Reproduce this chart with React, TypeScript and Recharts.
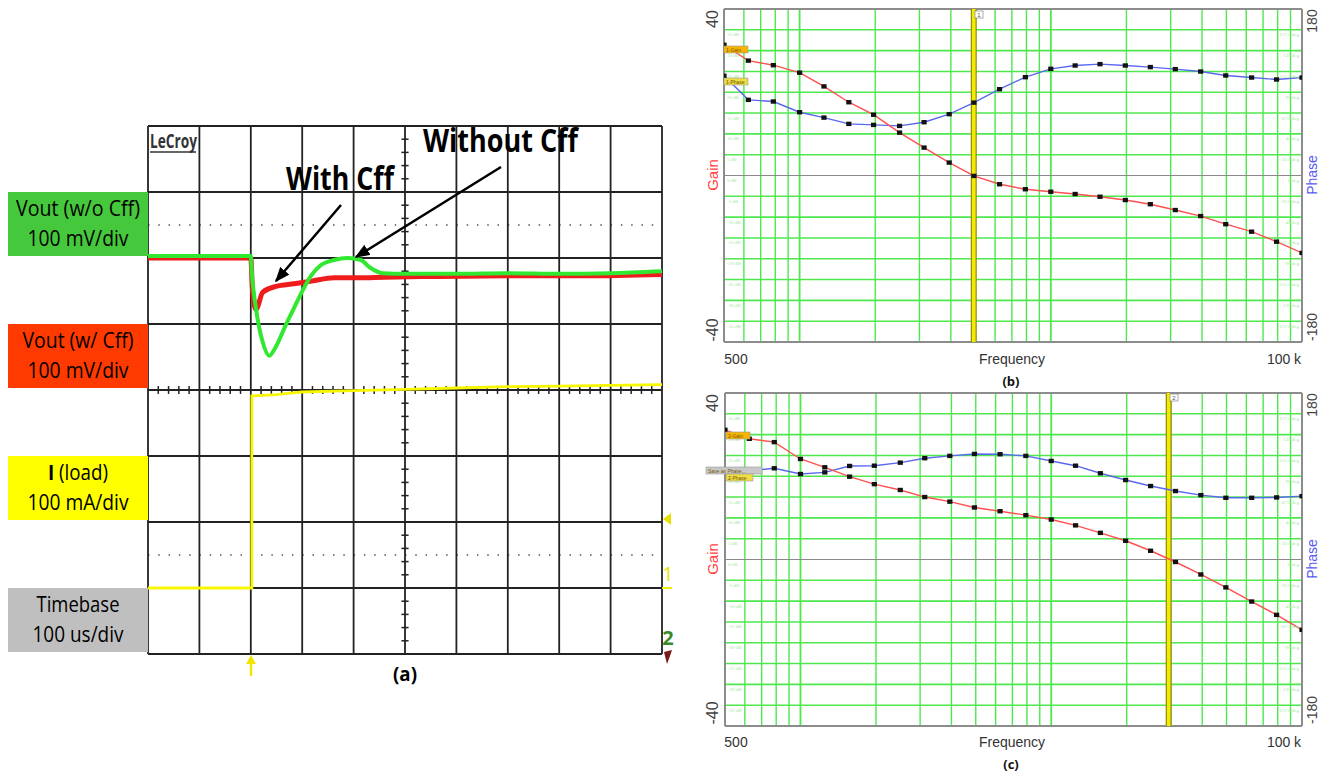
import React from 'react';
import { LineChart, Line, XAxis, YAxis, ReferenceLine } from 'recharts';

// ---- (a) scope capture: time and level in divisions (level 0 = bottom row, 8 = top) ----
const greenT = [0, 2.0, 2.015, 2.1, 2.23, 2.36, 2.49, 2.66, 2.84, 3.01, 3.18, 3.36, 3.62, 3.88, 4.14, 4.31, 4.57, 5.0, 6.0, 7.0, 8.0, 9.0, 10.0];
const greenV = [6.03, 6.03, 5.83, 5.24, 4.73, 4.52, 4.66, 4.95, 5.24, 5.51, 5.74, 5.89, 5.97, 6.0, 5.97, 5.86, 5.77, 5.76, 5.76, 5.77, 5.76, 5.77, 5.8];
const redT = [0, 2.0, 2.03, 2.1, 2.23, 2.49, 2.84, 3.18, 3.62, 4.1, 4.6, 5.5, 7.0, 8.5, 10.0];
const redV = [6.0, 6.0, 5.55, 5.22, 5.48, 5.57, 5.61, 5.65, 5.7, 5.7, 5.71, 5.72, 5.73, 5.73, 5.75];
const yellowT = [0, 2.02, 2.02, 2.5, 3.0, 4.0, 5.0, 6.0, 7.0, 8.0, 9.0, 10.0];
const yellowV = [1.0, 1.0, 3.91, 3.93, 3.97, 3.99, 4.01, 4.03, 4.05, 4.06, 4.07, 4.08];

const divX = [0, 1, 2, 3, 4, 5, 6, 7, 8, 9, 10];
const divY = [0, 1, 2, 3, 4, 5, 6, 7, 8];
const dottedRows = [1.5, 6.5];
const minorX = Array.from({ length: 49 }, (_, i) => +((i + 1) * 0.2).toFixed(1)).filter((v) => v % 1 !== 0);
const minorY = minorX.filter((v) => v < 8);

// ---- (b) / (c) bode plots ----
const freq = [500, 625, 786, 1000, 1250, 1570, 1970, 2500, 3130, 3940, 4940, 6250, 7920, 10000, 12500, 15700, 19800, 24900, 31300, 39500, 49700, 63000, 79200, 100000];
const gainB = [31.4, 27.6, 26.5, 24.7, 21.4, 17.6, 14.6, 10.3, 6.7, 3.1, -0.1, -2.1, -3.3, -3.9, -4.45, -5.1, -5.9, -6.9, -8.3, -9.75, -11.7, -13.5, -15.9, -18.6];
const phaseB = [107.8, 81.8, 80, 68.4, 62.6, 55.8, 54.7, 53.6, 57.6, 66.3, 78.8, 93.3, 106.3, 115.3, 118.9, 120.4, 118.9, 117.2, 115.0, 112.4, 108.1, 105.9, 103.8, 105.9];
const gainC = [31.15, 29.0, 28.2, 24.15, 22.15, 19.9, 18.1, 16.7, 15.0, 13.9, 12.5, 11.6, 10.65, 9.6, 8.2, 6.4, 4.5, 2.1, -0.6, -3.6, -6.7, -10.1, -13.3, -16.9];
const phaseC = [96.8, 96, 98.6, 92.4, 94.2, 101.1, 101.4, 104.7, 109.5, 112, 114.1, 113.8, 112, 106.5, 101.4, 93.2, 85.9, 79.4, 74.0, 69.6, 66.7, 66.7, 67.1, 68.5];
const crossB = 4935;
const crossC = 29400;

const gridFreq = [600, 700, 800, 900, 1000, 2000, 3000, 4000, 5000, 6000, 7000, 8000, 9000, 10000, 20000, 30000, 40000, 50000, 60000, 70000, 80000, 90000];
const gainLines = [35, 30, 25, 20, 15, 10, 5, -5, -10, -15, -20, -25, -30, -35];
const phaseLines = [157.5, 135, 112.5, 90, 67.5, 45, 22.5, -22.5, -45, -67.5, -90, -112.5, -135, -157.5];

const toXY = (t: number[], v: number[]) => t.map((x, i) => ({ x, y: v[i] }));

const GRID = '#222';
const BODE_GRID = '#4ee84e';
const TINY = '#9ee89e';

function SquareDot(props: any) {
  const { cx, cy, index } = props;
  if (cx == null || cy == null) return null;
  return <rect key={`sq${index}`} x={cx - 2.6} y={cy - 2.2} width={5.2} height={4.4} fill="#111" />;
}

function Scope() {
  return (
    <LineChart width={700} height={700} margin={{ top: 126, right: 38, bottom: 46, left: 148 }}>
      <XAxis type="number" dataKey="x" domain={[0, 10]} hide allowDataOverflow />
      <YAxis type="number" dataKey="y" domain={[0, 8]} hide allowDataOverflow />
      {dottedRows.map((r) => (
        <ReferenceLine key={`dr${r}`} y={r} stroke="#555" strokeWidth={1.4} strokeDasharray="1.5 8.78" />
      ))}
      {divX.map((d) => (
        <ReferenceLine key={`vx${d}`} x={d} stroke={GRID} strokeWidth={1.8} />
      ))}
      {divY.map((d) => (
        <ReferenceLine key={`hy${d}`} y={d} stroke={GRID} strokeWidth={1.8} />
      ))}
      {minorY.map((v) => (
        <ReferenceLine key={`ty${v}`} segment={[{ x: 4.93, y: v }, { x: 5.07, y: v }]} stroke={GRID} strokeWidth={1.5} />
      ))}
      {minorX.map((v) => (
        <ReferenceLine key={`tx${v}`} segment={[{ x: v, y: 3.94 }, { x: v, y: 4.06 }]} stroke={GRID} strokeWidth={1.5} />
      ))}
      <ReferenceLine segment={[{ x: 2.02, y: 1.0 }, { x: 2.02, y: 1.82 }]} stroke="#333" strokeWidth={1.5} />
      <Line data={toXY(yellowT, yellowV)} dataKey="y" type="linear" stroke="#f7f700" strokeWidth={2.8} dot={false} isAnimationActive={false} />
      <Line data={toXY(redT, redV)} dataKey="y" type="monotone" stroke="#ee1c1c" strokeWidth={5} dot={false} isAnimationActive={false} />
      <Line data={toXY(greenT, greenV)} dataKey="y" type="monotone" stroke="#2fe82f" strokeWidth={4} dot={false} isAnimationActive={false} />
    </LineChart>
  );
}

function Bode({ gain, phase, cross, height, top, left }: { gain: number[]; phase: number[]; cross: number; height: number; top: number; left: number }) {
  const data = freq.map((f, i) => ({ f, gain: gain[i], phase: phase[i] }));
  return (
    <LineChart width={620} height={height} data={data} margin={{ top, right: 18, bottom: height - top - 333, left }}>
      <XAxis type="number" dataKey="f" scale="log" domain={[500, 100000]} hide allowDataOverflow />
      <YAxis yAxisId="gain" type="number" domain={[-40, 40]} hide allowDataOverflow />
      <YAxis yAxisId="phase" orientation="right" type="number" domain={[-180, 180]} hide allowDataOverflow />
      {gridFreq.map((f) => (
        <ReferenceLine key={`gf${f}`} yAxisId="gain" x={f} stroke={BODE_GRID} strokeWidth={f === 1000 || f === 10000 ? 1.8 : 1.4} />
      ))}
      {gainLines.map((g) => (
        <ReferenceLine
          key={`gl${g}`}
          yAxisId="gain"
          y={g}
          stroke={BODE_GRID}
          strokeWidth={1.6}
          label={{ value: `${g} dB`, position: 'insideTopLeft', fontSize: 5, fill: TINY, offset: 3 }}
        />
      ))}
      {phaseLines.map((p) => (
        <ReferenceLine
          key={`pl${p}`}
          yAxisId="phase"
          y={p}
          stroke="none"
          label={{ value: `${p} deg`, position: 'insideTopRight', fontSize: 5, fill: TINY, offset: 3 }}
        />
      ))}
      <ReferenceLine yAxisId="gain" y={0} stroke="#8a8a8a" strokeWidth={1} label={{ value: '0 dB', position: 'insideTopLeft', fontSize: 5, fill: TINY, offset: 3 }} />
      <ReferenceLine yAxisId="phase" y={0} stroke="none" label={{ value: '0 deg', position: 'insideTopRight', fontSize: 5, fill: TINY, offset: 3 }} />
      <ReferenceLine yAxisId="gain" x={500} stroke="#8c8c8c" strokeWidth={2} />
      <ReferenceLine yAxisId="gain" x={100000} stroke="#8c8c8c" strokeWidth={2} />
      <ReferenceLine yAxisId="gain" y={40} stroke="#8c8c8c" strokeWidth={2} />
      <ReferenceLine yAxisId="gain" y={-40} stroke="#8c8c8c" strokeWidth={2} />
      <ReferenceLine yAxisId="gain" x={cross} stroke="#8f8a10" strokeWidth={6} />
      <ReferenceLine yAxisId="gain" x={cross} stroke="#f4ea00" strokeWidth={3.6} />
      <Line yAxisId="phase" dataKey="phase" type="linear" stroke="#5a68ee" strokeWidth={1.4} dot={<SquareDot />} isAnimationActive={false} />
      <Line yAxisId="gain" dataKey="gain" type="linear" stroke="#ff5050" strokeWidth={1.4} dot={<SquareDot />} isAnimationActive={false} />
    </LineChart>
  );
}

const font = "'Open Sans', 'Liberation Sans', sans-serif";
const arial = "'Liberation Sans', Arial, sans-serif";

function LabelBox({ y, fill, l1, w1, l2, w2, bold }: { y: number; fill: string; l1: string; w1: number; l2: string; w2: number; bold?: boolean }) {
  return (
    <g>
      <rect x={8} y={y} width={140} height={64} fill={fill} />
      <text x={78} y={y + 24} textAnchor="middle" fontSize={21} fontFamily={font} textLength={w1} lengthAdjust="spacingAndGlyphs" fill="#000">
        {bold ? (
          <>
            <tspan fontWeight={700}>I</tspan>
            <tspan>{l1}</tspan>
          </>
        ) : (
          l1
        )}
      </text>
      <text x={78} y={y + 54} textAnchor="middle" fontSize={21} fontFamily={font} textLength={w2} lengthAdjust="spacingAndGlyphs" fill="#000">
        {l2}
      </text>
    </g>
  );
}

function Rot({ x, y, size, fill, children }: { x: number; y: number; size: number; fill: string; children: React.ReactNode }) {
  return (
    <text transform={`translate(${x},${y}) rotate(-90)`} textAnchor="middle" dominantBaseline="central" fontSize={size} fontFamily={arial} fill={fill}>
      {children}
    </text>
  );
}

function BodeLabels({ top, bottom, mid, caption, tags, marker }: { top: number; bottom: number; mid: number; caption: string; tags: React.ReactNode; marker: { x: number; y: number; t: string } }) {
  return (
    <g>
      <Rot x={712} y={top + 10} size={16} fill="#444">40</Rot>
      <Rot x={712} y={bottom - 12} size={16} fill="#444">-40</Rot>
      <Rot x={712} y={mid} size={15} fill="#ff4040">Gain</Rot>
      <Rot x={1312} y={top + 12} size={14} fill="#444">180</Rot>
      <Rot x={1312} y={bottom - 15} size={14} fill="#444">-180</Rot>
      <Rot x={1312} y={mid} size={14} fill="#5a5aee">Phase</Rot>
      <text x={736} y={bottom + 22} textAnchor="middle" fontSize={14} fontFamily={arial} fill="#333">500</text>
      <text x={1012} y={bottom + 22} textAnchor="middle" fontSize={14} fontFamily={arial} fill="#333">Frequency</text>
      <text x={1284} y={bottom + 22} textAnchor="middle" fontSize={14} fontFamily={arial} fill="#333">100 k</text>
      <text x={1011} y={bottom + 44} textAnchor="middle" fontSize={13} fontWeight={700} fontFamily={font} fill="#111">{caption}</text>
      <rect x={marker.x} y={marker.y} width={8} height={7} fill="#fff" stroke="#888" strokeWidth={0.7} />
      <text x={marker.x + 4} y={marker.y + 6} textAnchor="middle" fontSize={6} fontFamily={arial} fill="#555">{marker.t}</text>
      {tags}
    </g>
  );
}

function Tag({ x, y, w, fill, t }: { x: number; y: number; w: number; fill: string; t: string }) {
  return (
    <g>
      <rect x={x} y={y} width={w} height={7} fill={fill} stroke="#999" strokeWidth={0.6} />
      <text x={x + 2} y={y + 5.5} fontSize={5} fontFamily={arial} fill="#775500">{t}</text>
    </g>
  );
}

function Overlay() {
  return (
    <svg width={1320} height={773} style={{ position: 'absolute', left: 0, top: 0, pointerEvents: 'none' }}>
      <defs>
        <marker id="ah" viewBox="0 0 10 8" refX="9" refY="4" markerWidth="6" markerHeight="4.8" orient="auto">
          <path d="M0,0 L10,4 L0,8 z" fill="#000" />
        </marker>
      </defs>
      <LabelBox y={192} fill="#46c83c" l1="Vout (w/o Cff)" w1={124} l2="100 mV/div" w2={101} />
      <LabelBox y={324} fill="#ff3a00" l1="Vout (w/ Cff)" w1={111} l2="100 mV/div" w2={101} />
      <LabelBox y={456} fill="#ffff00" l1=" (load)" w1={60} l2="100 mA/div" w2={101} bold />
      <LabelBox y={588} fill="#bfbfbf" l1="Timebase" w1={83} l2="100 us/div" w2={91} />

      <text x={150} y={148} fontSize={19} fontWeight={700} fontFamily={font} textLength={47} lengthAdjust="spacingAndGlyphs" fill="#333">LeCroy</text>
      <line x1={150} y1={152} x2={196} y2={152} stroke="#333" strokeWidth={1.5} />

      <text x={340} y={190} textAnchor="middle" fontSize={33} fontWeight={700} fontFamily={font} textLength={108} lengthAdjust="spacingAndGlyphs" fill="#000">With Cff</text>
      <text x={500.5} y={152} textAnchor="middle" fontSize={33} fontWeight={700} fontFamily={font} textLength={155} lengthAdjust="spacingAndGlyphs" fill="#000">Without Cff</text>
      <line x1={341} y1={205} x2={276} y2={281} stroke="#000" strokeWidth={2.5} markerEnd="url(#ah)" />
      <line x1={501} y1={167} x2={356} y2={257} stroke="#000" strokeWidth={2.5} markerEnd="url(#ah)" />

      <polygon points="251,655 246,664 256,664" fill="#f2e600" />
      <line x1={251} y1={662} x2={251} y2={676} stroke="#f2e600" strokeWidth={2.5} />
      <text x={405} y={681} textAnchor="middle" fontSize={20} fontWeight={700} fontFamily={font} textLength={24} lengthAdjust="spacingAndGlyphs" fill="#000">(a)</text>

      <polygon points="663,519 671,513 671,525" fill="#e8e000" />
      <text x={668} y={581} textAnchor="middle" fontSize={20} fontFamily={font} fill="#e6e600">1</text>
      <line x1={662} y1={588} x2={672} y2={588} stroke="#f0f000" strokeWidth={2} />
      <text x={668} y={645} textAnchor="middle" fontSize={20} fontWeight={700} fontFamily={font} fill="#3a8a2a">2</text>
      <polygon points="664,652 672,650 670,656 667,664" fill="#7a1a1a" />

      <BodeLabels
        top={9}
        bottom={342}
        mid={175}
        caption="(b)"
        marker={{ x: 975, y: 11, t: '1' }}
        tags={
          <>
            <Tag x={724} y={46} w={24} fill="#f8b400" t="1-Gain" />
            <Tag x={724} y={78} w={24} fill="#eedd44" t="1-Phase" />
          </>
        }
      />
      <BodeLabels
        top={393}
        bottom={725}
        mid={559}
        caption="(c)"
        marker={{ x: 1170, y: 394, t: '2' }}
        tags={
          <>
            <Tag x={726} y={432} w={24} fill="#f8b400" t="2-Gain" />
            <Tag x={706} y={467} w={56} fill="#c8c8c8" t="Save as Phase..." />
            <Tag x={726} y={474} w={27} fill="#eedd44" t="2-Phase" />
          </>
        }
      />
    </svg>
  );
}

export default function App() {
  return (
    <div style={{ position: 'absolute', left: 0, top: 0, width: 1320, height: 773, background: '#fff', overflow: 'hidden' }}>
      <div style={{ position: 'absolute', left: 0, top: 0 }}>
        <Scope />
      </div>
      <div style={{ position: 'absolute', left: 700, top: 0 }}>
        <Bode gain={gainB} phase={phaseB} cross={crossB} height={380} top={9} left={24} />
      </div>
      <div style={{ position: 'absolute', left: 700, top: 384 }}>
        <Bode gain={gainC} phase={phaseC} cross={crossC} height={388} top={9} left={25} />
      </div>
      <Overlay />
    </div>
  );
}
